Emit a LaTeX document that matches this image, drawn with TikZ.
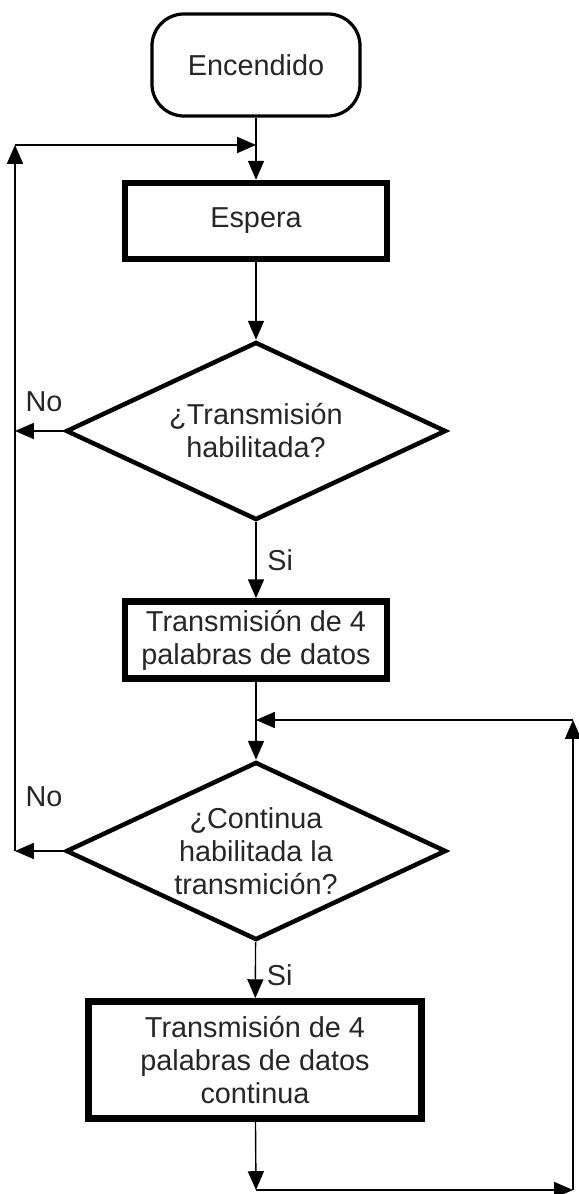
\documentclass[tikz,border=0pt]{standalone}
\usepackage{fontspec}
\setmainfont{Liberation Sans}
\usetikzlibrary{shapes.geometric, arrows.meta}

\begin{document}
\begin{tikzpicture}[x=0.025cm, y=-0.025cm,
    >={Triangle[length=0.47cm, width=0.4cm]},
    every node/.style={font=\fontsize{20.5pt}{23.5pt}\selectfont, text=black!85},
    flow/.style={->, line width=1pt},
    term/.style={rectangle, draw, rounded corners=0.8cm, line width=2.3pt, minimum width=5.2cm, minimum height=2.55cm},
    proc/.style={rectangle, draw, line width=4.6pt, align=center, inner sep=0pt},
    decision/.style={diamond, draw, shape aspect=2.1, line width=3.2pt, align=center, inner sep=0pt, minimum width=9.5cm, minimum height=4.45cm}]
    \useasboundingbox (0,0) rectangle (578,1194);

    \node (encendido) [term] at (256, 65) {Encendido};
    \node (espera) [proc, minimum width=6.55cm, minimum height=1.9cm] at (256, 221) {Espera};
    \node (habilitada) [decision] at (256, 431) {¿Transmisión\\habilitada?};
    \node (envio) [proc, minimum width=6.55cm, minimum height=1.93cm] at (256, 640) {Transmisión de 4\\palabras de datos};
    \node (continua) [decision] at (256, 851) {¿Continua\\habilitada la\\transmición?};
    \node (enviocont) [proc, line width=5pt, minimum width=8.3cm, minimum height=2.92cm] at (255, 1060) {Transmisión de 4\\palabras de datos\\continua};

    \node (no1) at (44, 402) {No};
    \node (no2) at (44, 797) {No};

    \coordinate (izqarr) at (15, 145);
    \coordinate (entrada) at (256, 145);
    \coordinate (retorno) at (256, 720);
    \coordinate (derarr) at (573, 720);
    \coordinate (derab) at (573, 1190);
    \coordinate (salida) at (256, 1190);

    \draw[flow] (encendido) to (espera);
    \draw[flow] (izqarr) to (entrada);
    \draw[flow] (espera) to (habilitada);
    \draw[flow] (habilitada.west) to (habilitada.west -| izqarr);
    \draw[flow] (habilitada) to node[midway, right=0.15cm] (si1) {Si} (envio);
    \draw[flow] (envio) to (continua);
    \draw[flow] (continua.west) to (continua.west -| izqarr);
    \draw[flow] (continua.west -| izqarr) to (izqarr);
    \draw[flow] (continua) to node[pos=0.6, right=0.15cm] (si2) {Si} (enviocont);
    \draw[flow] (enviocont) to (salida);
    \draw[flow] (salida) to (derab);
    \draw[flow] (derab) to (derarr);
    \draw[flow] (derarr) to (retorno);
\end{tikzpicture}
\end{document}
